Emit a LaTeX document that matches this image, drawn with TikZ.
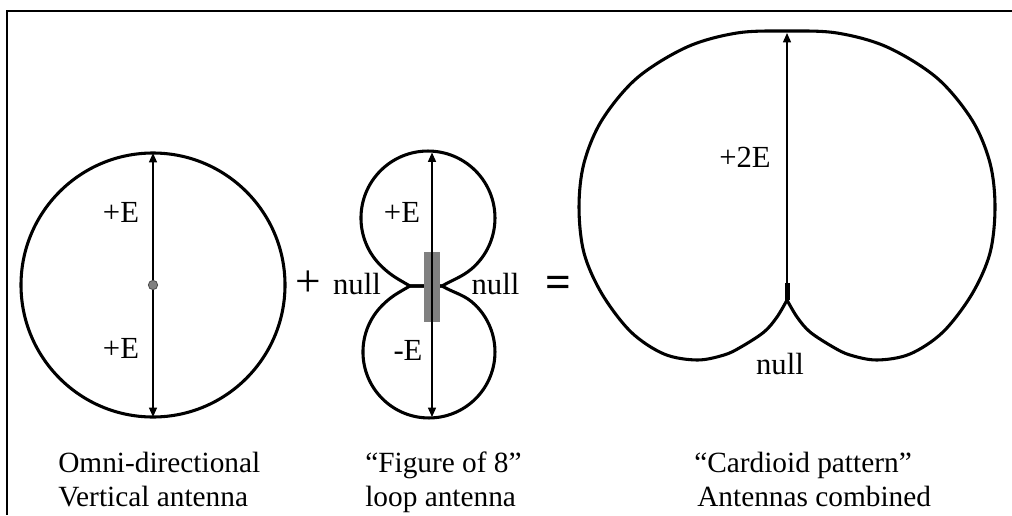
\documentclass[tikz,border=0pt]{standalone}
\usepackage{fontspec}
\setmainfont{Liberation Serif}
\usetikzlibrary{arrows.meta}
\begin{document}
\begin{tikzpicture}[x=0.75pt,y=0.75pt,
  outline/.style={line width=2.3pt, line join=round},
  arr/.style={line width=1pt, -{Triangle[length=7pt,width=6pt]}},
  lbl/.style={font=\fontsize{23}{27}\selectfont, inner sep=0pt},
  capt/.style={font=\fontsize{22}{26}\selectfont, inner sep=0pt, anchor=base west},
  frameline/.style={line width=1.5pt}]
\useasboundingbox (0,0) rectangle (1012,515);
% frame
\draw[frameline] (1012,504) -- (7,504) -- (7,0);

% ---- omni-directional pattern
\node[circle, draw, outline, minimum size=198pt, inner sep=0pt] (omni) at (153,230) {};
\node[circle, fill=gray, draw=gray!60!black, line width=0.6pt, minimum size=7pt, inner sep=0pt] (dot) at (153,230) {};
\draw[arr, shorten >=1.2pt] (dot) -- (omni.north);
\draw[arr, shorten >=1.2pt] (dot) -- (omni.south);
\node[lbl] (e1) at (121,302.5) {+E};
\node[lbl] (e2) at (121,167) {+E};

\node[font=\fontsize{34}{34}\selectfont, inner sep=0pt] (plus) at (308,231) {+};

% ---- figure of 8
\coordinate (cl) at (410,229);
\coordinate (cr) at (442,229);
\draw[outline] (cl) to[out=150,in=-45] (380.6,249.6)
  arc[start angle=225,end angle=-45,radius=67]
  to[out=-135,in=30] (cr) -- cycle;
\draw[outline] (cl) to[out=-150,in=45] (382.3,209.7)
  arc[start angle=135,end angle=405,radius=66]
  to[out=135,in=-30] (cr) -- cycle;
\node[fill=gray, minimum width=12pt, minimum height=52.5pt, inner sep=0pt] (loop) at (432,228) {};
\coordinate (f8top) at (432,362.5);
\coordinate (f8bot) at (432,98);
\draw[arr] (loop.center) -- (f8top);
\draw[arr] (loop.center) -- (f8bot);
\node[lbl] (e3) at (402,303) {+E};
\node[lbl] (e4) at (408,165) {-E};
\node[lbl, anchor=base] (n1) at (357,221) {null};
\node[lbl, anchor=base] (n2) at (495.5,221) {null};

\node[font=\fontsize{34}{34}\selectfont\bfseries, inner sep=0pt] (eq) at (558,228) {=};

% ---- cardioid
\draw[outline] plot[smooth, tension=0.55] coordinates {
 (787,215) (797,198) (810,183) (833,168) (850,160) (877,155) (910,161) (943,183)
 (972,221) (990,262) (995,308) (990,352) (972,395) (937,437) (887,468)
 (837,482) (787,484)
 (737,482) (687,468) (637,437) (602,395) (584,352) (579,308) (584,262)
 (602,221) (631,183) (664,161) (697,155) (724,160) (741,168) (764,183) (777,198)
 (787,215)};
\node[fill=black, minimum width=3.75pt, minimum height=12.75pt, inner sep=0pt] (cusp) at (787,223.5) {};
\coordinate (cardtop) at (787,482);
\draw[arr] (cusp.north) -- (cardtop);
\node[lbl] (e5) at (745,358) {+2E};
\node[lbl, anchor=base] (n3) at (780,141) {null};

% ---- captions
\node[capt] (c1a) at (58,43) {Omni-directional};
\node[capt] (c1b) at (58,9) {Vertical antenna};
\node[capt] (c2a) at (365,43) {“Figure of 8”};
\node[capt] (c2b) at (365,9) {loop antenna};
\node[capt] (c3a) at (694,43) {“Cardioid pattern”};
\node[capt] (c3b) at (697,9) {Antennas combined};
\end{tikzpicture}
\end{document}
